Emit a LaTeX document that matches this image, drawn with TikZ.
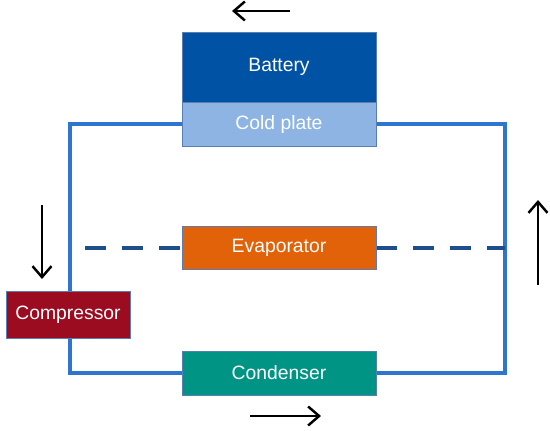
\documentclass[tikz,border=0pt]{standalone}
\usepackage{fontspec}
\setmainfont{Liberation Sans}
\definecolor{tmblue}{RGB}{0,82,165}
\definecolor{tmlight}{RGB}{141,180,226}
\definecolor{tmorange}{RGB}{226,98,10}
\definecolor{tmred}{RGB}{155,12,32}
\definecolor{tmteal}{RGB}{0,148,133}
\definecolor{tmpipe}{RGB}{46,117,208}
\definecolor{tmdash}{RGB}{31,78,140}
\definecolor{tmedge}{RGB}{90,125,180}
\usetikzlibrary{arrows.meta,backgrounds}

\tikzset{
  unit/.style={draw=tmedge, line width=0.5pt, text=white, font=\fontsize{11}{13}\selectfont,
    minimum width=3.88cm, inner sep=0pt},
  pipe/.style={draw=tmpipe, line width=2.2pt},
  dashpipe/.style={draw=tmdash, line width=2.2pt, dash pattern=on 0.42cm off 0.32cm},
  flow/.style={draw=black, line width=1.4pt, -{Straight Barb[length=2.2mm,width=3.8mm,line width=1.4pt]}}
}

\begin{document}
\begin{tikzpicture}[x=0.02cm, y=-0.02cm]
  \useasboundingbox (0,0) rectangle (550,430);

  % Components
  \node[unit, fill=tmblue, minimum height=1.4cm] (battery) at (279,67) {Battery};
  \node[unit, fill=tmlight, minimum height=0.88cm] (coldplate) at (279,124) {Cold plate};
  \node[unit, fill=tmorange, minimum height=0.86cm] (evaporator) at (279,248) {Evaporator};
  \node[unit, fill=tmteal, minimum height=0.88cm] (condenser) at (279,373) {Condenser};
  \node[unit, fill=tmred, minimum width=2.48cm, minimum height=0.94cm] (compressor) at (68,315) {Compressor};

  % Loop corners
  \coordinate (botleft) at (70,373);
  \coordinate (topright) at (505,124);
  \coordinate (evapleft) at (85,248);
  \coordinate (evapright) at (505,248);

  % Coolant loop behind the boxes
  \begin{scope}[on background layer]
    \draw[pipe] (coldplate.west) -| (botleft) -- (condenser.west);
    \draw[pipe] (condenser.east) -| (topright) -- (coldplate.east);
    \draw[dashpipe] (evapleft) -- (evaporator.west);
    \draw[dashpipe] (evaporator.east) -- (evapright);
  \end{scope}

  % Flow direction
  \coordinate (topa) at (290,11);
  \coordinate (topb) at (232,11);
  \coordinate (lefta) at (42,205);
  \coordinate (leftb) at (42,279);
  \coordinate (righta) at (538,285);
  \coordinate (rightb) at (538,200);
  \coordinate (bota) at (250,416);
  \coordinate (botb) at (321,416);
  \draw[flow] (topa) -- (topb);
  \draw[flow] (lefta) -- (leftb);
  \draw[flow] (righta) -- (rightb);
  \draw[flow] (bota) -- (botb);
\end{tikzpicture}
\end{document}
